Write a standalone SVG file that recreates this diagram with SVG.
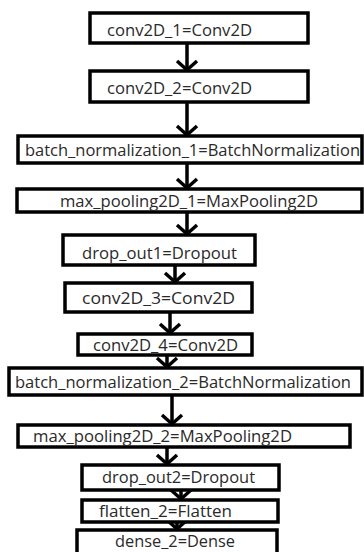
<svg xmlns="http://www.w3.org/2000/svg" width="364" height="552" viewBox="0 0 364 552">
<style>
.box{fill:#fff;stroke:#000;stroke-width:3.5}
.lbl{font-family:"Open Sans","Liberation Sans",sans-serif;font-size:16px;fill:#2a2a2a;dominant-baseline:central}
.edge{stroke:#000;stroke-width:3.5;fill:none}
</style>
<defs>
<marker id="chev" markerUnits="userSpaceOnUse" viewBox="-12 -12 14 24" refX="0" refY="0" markerWidth="14" markerHeight="24" orient="auto" overflow="visible">
<path d="M-9,-10 L0,0 L-9,10" fill="none" stroke="#000" stroke-width="3.5"/>
</marker>
</defs>
<rect width="364" height="552" fill="#fff"/>
<g id="connectors">
<line class="edge" x1="187" y1="43" x2="187" y2="70" marker-end="url(#chev)"/>
<line class="edge" x1="187" y1="102" x2="187" y2="135" marker-end="url(#chev)"/>
<line class="edge" x1="187" y1="163" x2="187" y2="188" marker-end="url(#chev)"/>
<line class="edge" x1="187" y1="212" x2="187" y2="234" marker-end="url(#chev)"/>
<line class="edge" x1="175" y1="265" x2="175" y2="282" marker-end="url(#chev)"/>
<line class="edge" x1="170" y1="312" x2="170" y2="333" marker-end="url(#chev)"/>
<line class="edge" x1="167" y1="355" x2="167" y2="367" marker-end="url(#chev)"/>
<line class="edge" x1="172" y1="395" x2="172" y2="424" marker-end="url(#chev)"/>
<line class="edge" x1="167" y1="447" x2="167" y2="464" marker-end="url(#chev)"/>
<line class="edge" x1="181" y1="490" x2="181" y2="499" marker-end="url(#chev)"/>
<line class="edge" x1="177" y1="522" x2="177" y2="529" marker-end="url(#chev)"/>
</g>
<g id="conv2D_1"><rect class="box" x="90" y="13" width="218" height="30"/><text class="lbl" x="107" y="30" textLength="145" lengthAdjust="spacingAndGlyphs">conv2D_1=Conv2D</text></g>
<g id="conv2D_2"><rect class="box" x="90" y="71" width="218" height="31"/><text class="lbl" x="107" y="88" textLength="145" lengthAdjust="spacingAndGlyphs">conv2D_2=Conv2D</text></g>
<g id="batch_normalization_1"><rect class="box" x="18" y="136" width="344" height="27"/><text class="lbl" x="25" y="150" textLength="335" lengthAdjust="spacingAndGlyphs">batch_normalization_1=BatchNormalization</text></g>
<g id="max_pooling2D_1"><rect class="box" x="17" y="189" width="345" height="23"/><text class="lbl" x="60" y="201" textLength="258" lengthAdjust="spacingAndGlyphs">max_pooling2D_1=MaxPooling2D</text></g>
<g id="drop_out1"><rect class="box" x="63" y="235" width="192" height="30"/><text class="lbl" x="82" y="253" textLength="155" lengthAdjust="spacingAndGlyphs">drop_out1=Dropout</text></g>
<g id="conv2D_3"><rect class="box" x="65" y="283" width="187" height="29"/><text class="lbl" x="82" y="298" textLength="153" lengthAdjust="spacingAndGlyphs">conv2D_3=Conv2D</text></g>
<g id="conv2D_4"><rect class="box" x="78" y="334" width="174" height="21"/><text class="lbl" x="93" y="345" textLength="145" lengthAdjust="spacingAndGlyphs">conv2D_4=Conv2D</text></g>
<g id="batch_normalization_2"><rect class="box" x="9" y="368" width="353" height="27"/><text class="lbl" x="15" y="382" textLength="336" lengthAdjust="spacingAndGlyphs">batch_normalization_2=BatchNormalization</text></g>
<g id="max_pooling2D_2"><rect class="box" x="18" y="425" width="332" height="22"/><text class="lbl" x="33" y="436" textLength="259" lengthAdjust="spacingAndGlyphs">max_pooling2D_2=MaxPooling2D</text></g>
<g id="drop_out2"><rect class="box" x="82" y="465" width="197" height="25"/><text class="lbl" x="102" y="477" textLength="153" lengthAdjust="spacingAndGlyphs">drop_out2=Dropout</text></g>
<g id="flatten_2"><rect class="box" x="82" y="500" width="196" height="22"/><text class="lbl" x="99" y="511" textLength="133" lengthAdjust="spacingAndGlyphs">flatten_2=Flatten</text></g>
<g id="dense_2"><rect class="box" x="77" y="530" width="200" height="32"/><text class="lbl" x="115" y="541" textLength="120" lengthAdjust="spacingAndGlyphs">dense_2=Dense</text></g>
</svg>
